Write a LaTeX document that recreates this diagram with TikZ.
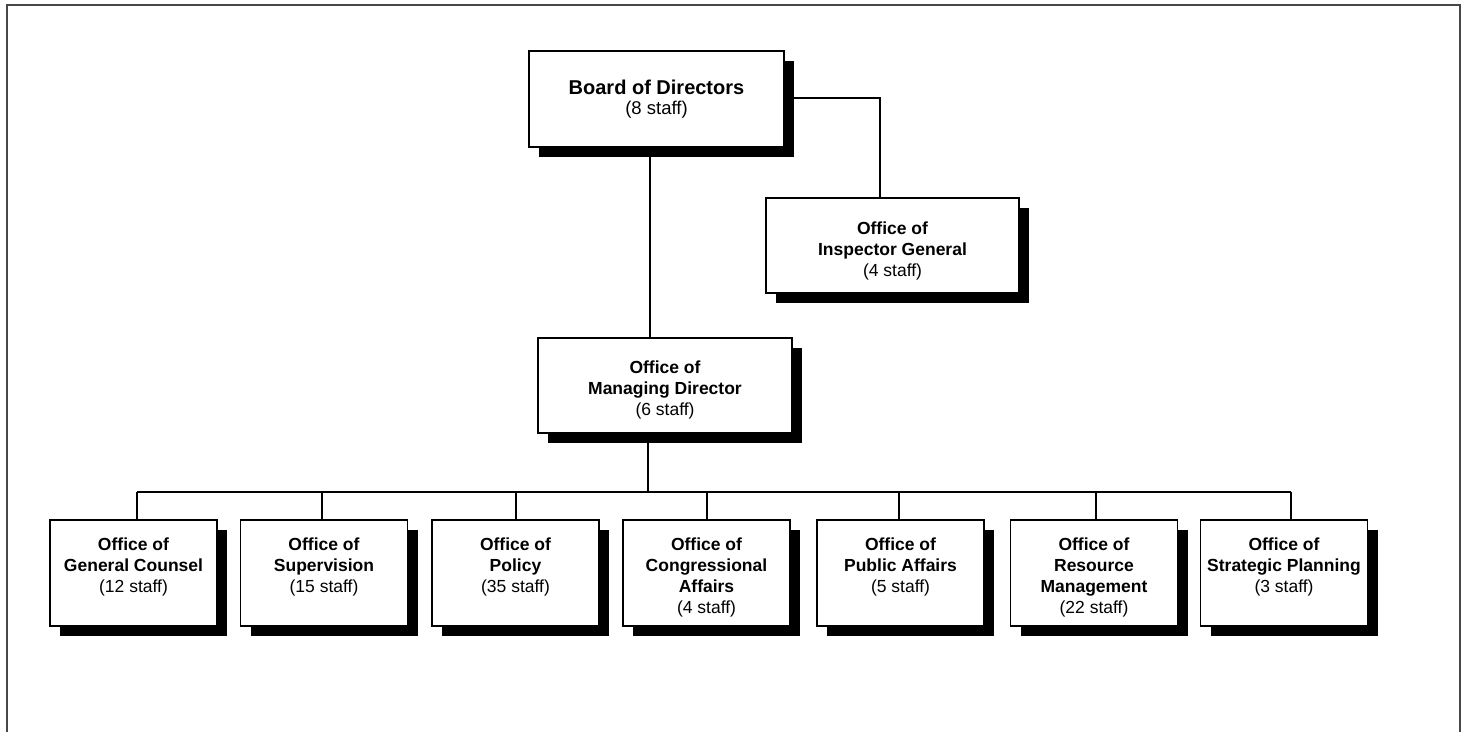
\documentclass[tikz,border=0pt]{standalone}
\usepackage{fontspec}
\setmainfont{Liberation Sans}
\usetikzlibrary{shadows}
\begin{document}
\begin{tikzpicture}[x=1pt,y=1pt,
  orgbox/.style 2 args={draw=black, line width=1.5pt, fill=white, inner sep=0pt,
    minimum width=#1, minimum height=#2,
    general shadow={fill=black, shadow xshift=10pt, shadow yshift=-10pt}},
  lowbox/.style={orgbox={167pt}{106pt}},
  lbl/.style={inner sep=0pt, align=center, anchor=north, font=\fontsize{17.5}{21}\selectfont},
  link/.style={draw=black, line width=1.5pt},
  frame/.style={draw=black!72, line width=2.2pt}]
\useasboundingbox (0,0) rectangle (1468,-732);
% outer frame
\draw[frame] (7,-732) -- (7,-5) -- (1460,-5) -- (1460,-732);

% top level
\node[orgbox={255pt}{96pt}] (board) at (656.5,-99) {};
\node[lbl, font=\fontsize{18.5}{20}\selectfont] (boardt) at ([yshift=-30pt]board.north)
  {{\fontsize{20}{20}\selectfont\bfseries Board of Directors}\\(8 staff)};

\node[orgbox={253pt}{95pt}] (ig) at (892.5,-245.5) {};
\node[lbl] (igt) at ([yshift=-24.5pt]ig.north)
  {\textbf{Office of}\\\textbf{Inspector General}\\(4 staff)};

\node[orgbox={254pt}{95pt}] (md) at (665,-385.5) {};
\node[lbl] (mdt) at ([yshift=-23.5pt]md.north)
  {\textbf{Office of}\\\textbf{Managing Director}\\(6 staff)};

% bottom level
\node[lowbox] (gc)  at (133.5,-573) {};
\node[lowbox] (sup) at (324,-573) {};
\node[lowbox] (pol) at (515.5,-573) {};
\node[lowbox] (con) at (706.5,-573) {};
\node[lowbox] (pa)  at (900.5,-573) {};
\node[lowbox] (rm)  at (1094,-573) {};
\node[lowbox] (sp)  at (1284,-573) {};

\node[lbl] (gct)  at ([yshift=-18pt]gc.north)  {\textbf{Office of}\\\textbf{General Counsel}\\(12 staff)};
\node[lbl] (supt) at ([yshift=-18pt]sup.north) {\textbf{Office of}\\\textbf{Supervision}\\(15 staff)};
\node[lbl] (polt) at ([yshift=-18pt]pol.north) {\textbf{Office of}\\\textbf{Policy}\\(35 staff)};
\node[lbl] (cont) at ([yshift=-18pt]con.north) {\textbf{Office of}\\\textbf{Congressional}\\\textbf{Affairs}\\(4 staff)};
\node[lbl] (pat)  at ([yshift=-18pt]pa.north)  {\textbf{Office of}\\\textbf{Public Affairs}\\(5 staff)};
\node[lbl] (rmt)  at ([yshift=-18pt]rm.north)  {\textbf{Office of}\\\textbf{Resource}\\\textbf{Management}\\(22 staff)};
\node[lbl] (spt)  at ([yshift=-18pt]sp.north)  {\textbf{Office of}\\\textbf{Strategic Planning}\\(3 staff)};

% connectors
\coordinate (busL) at (137,-492);
\coordinate (busR) at (1291,-492);
\coordinate (busM) at (648,-492);
\draw[link] (650,0 |- board.south) -- (650,0 |- md.north);
\draw[link] (board.east |- 0,-98) -| (880,0 |- ig.north);
\draw[link] (648,0 |- md.south) -- (busM);
\draw[link] (busL) -- (busR);
\draw[link] (busL) -- (137,0 |- gc.north);
\draw[link] (322,-492) -- (322,0 |- sup.north);
\draw[link] (516,-492) -- (516,0 |- pol.north);
\draw[link] (707,-492) -- (707,0 |- con.north);
\draw[link] (899,-492) -- (899,0 |- pa.north);
\draw[link] (1096,-492) -- (1096,0 |- rm.north);
\draw[link] (busR) -- (1291,0 |- sp.north);
\end{tikzpicture}
\end{document}
